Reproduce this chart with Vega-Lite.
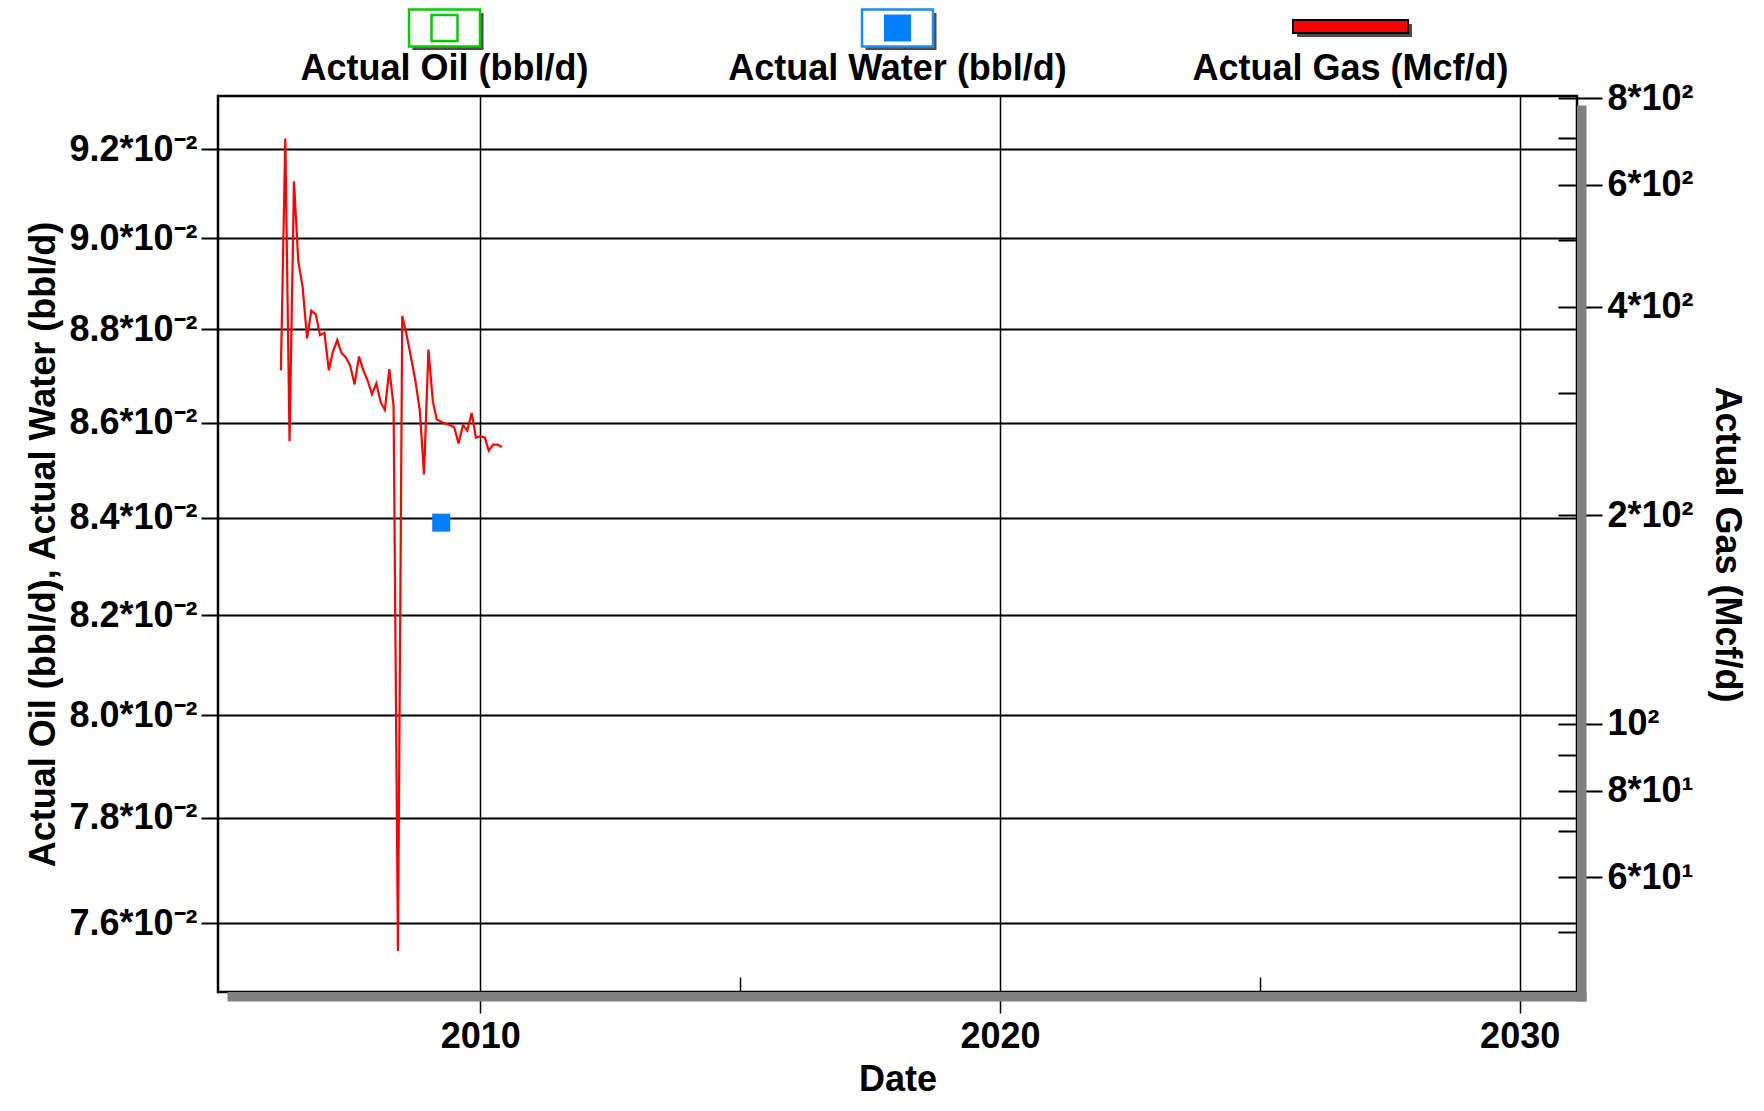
{
  "$schema": "https://vega.github.io/schema/vega-lite/v6.json",
  "background": "white",
  "padding": {"left": 24, "top": 0, "right": 4, "bottom": 4},
  "bounds": "flush",
  "spacing": 16,
  "datasets": {
    "series": [
      {"series": "Actual Oil (bbl/d)"},
      {"series": "Actual Water (bbl/d)"},
      {"series": "Actual Gas (Mcf/d)"}
    ],
    "water": [
      {"date": "2009-04-01", "water": 0.0839}
    ],
    "gas": [
      {"date": "2006-03-01", "gas": 324},
      {"date": "2006-04-01", "gas": 700},
      {"date": "2006-05-01", "gas": 256},
      {"date": "2006-06-01", "gas": 607},
      {"date": "2006-07-01", "gas": 466},
      {"date": "2006-08-01", "gas": 427},
      {"date": "2006-09-01", "gas": 360},
      {"date": "2006-10-01", "gas": 395},
      {"date": "2006-11-01", "gas": 390},
      {"date": "2006-12-01", "gas": 364},
      {"date": "2007-01-01", "gas": 367},
      {"date": "2007-02-01", "gas": 324},
      {"date": "2007-03-01", "gas": 344},
      {"date": "2007-04-01", "gas": 358},
      {"date": "2007-05-01", "gas": 343},
      {"date": "2007-06-01", "gas": 338},
      {"date": "2007-07-01", "gas": 329},
      {"date": "2007-08-01", "gas": 309},
      {"date": "2007-09-01", "gas": 339},
      {"date": "2007-10-01", "gas": 324},
      {"date": "2007-11-01", "gas": 313},
      {"date": "2007-12-01", "gas": 299},
      {"date": "2008-01-01", "gas": 310},
      {"date": "2008-02-01", "gas": 291},
      {"date": "2008-03-01", "gas": 284},
      {"date": "2008-04-01", "gas": 325},
      {"date": "2008-05-01", "gas": 288},
      {"date": "2008-06-01", "gas": 47},
      {"date": "2008-07-01", "gas": 388},
      {"date": "2008-08-01", "gas": 364},
      {"date": "2008-09-01", "gas": 338},
      {"date": "2008-10-01", "gas": 313},
      {"date": "2008-11-01", "gas": 284},
      {"date": "2008-12-01", "gas": 229},
      {"date": "2009-01-01", "gas": 347},
      {"date": "2009-02-01", "gas": 292},
      {"date": "2009-03-01", "gas": 275},
      {"date": "2009-04-01", "gas": 273},
      {"date": "2009-05-01", "gas": 271},
      {"date": "2009-06-01", "gas": 270},
      {"date": "2009-07-01", "gas": 268},
      {"date": "2009-08-01", "gas": 254},
      {"date": "2009-09-01", "gas": 270},
      {"date": "2009-10-01", "gas": 265},
      {"date": "2009-11-01", "gas": 281},
      {"date": "2009-12-01", "gas": 259},
      {"date": "2010-01-01", "gas": 260},
      {"date": "2010-02-01", "gas": 259},
      {"date": "2010-03-01", "gas": 248},
      {"date": "2010-04-01", "gas": 253},
      {"date": "2010-05-01", "gas": 253},
      {"date": "2010-06-01", "gas": 251}
    ]
  },
  "vconcat": [
    {
      "width": 1359,
      "height": 80,
      "view": {"stroke": null, "fill": "white"},
      "data": {"name": "series"},
      "encoding": {
        "x": {
          "field": "series",
          "type": "nominal",
          "sort": null,
          "scale": {"type": "point", "padding": 0.5},
          "axis": null
        }
      },
      "layer": [
        {
          "transform": [{"filter": {"field": "series", "oneOf": ["Actual Oil (bbl/d)", "Actual Water (bbl/d)"]}}],
          "mark": {"type": "point", "shape": "M-1,-0.52H1V0.52H-1Z", "size": 5041, "filled": true, "fill": "black", "strokeWidth": 0, "xOffset": 3.5, "yOffset": -8.5}
        },
        {
          "transform": [{"filter": {"field": "series", "oneOf": ["Actual Oil (bbl/d)", "Actual Water (bbl/d)"]}}],
          "mark": {"type": "point", "shape": "M-1,-0.52H1V0.52H-1Z", "size": 5041, "fill": "white", "fillOpacity": 1, "strokeWidth": 2.5, "strokeOpacity": 1, "yOffset": -12},
          "encoding": {
            "stroke": {
              "field": "series",
              "type": "nominal",
              "scale": {"domain": ["Actual Oil (bbl/d)", "Actual Water (bbl/d)"], "range": ["#00cc00", "#1a8cff"]},
              "legend": null
            }
          }
        },
        {
          "transform": [{"filter": {"field": "series", "equal": "Actual Oil (bbl/d)"}}],
          "mark": {"type": "point", "shape": "square", "size": 676, "fill": "white", "fillOpacity": 1, "stroke": "#00cc00", "strokeWidth": 2.5, "strokeOpacity": 1, "yOffset": -12}
        },
        {
          "transform": [{"filter": {"field": "series", "equal": "Actual Water (bbl/d)"}}],
          "mark": {"type": "point", "shape": "square", "size": 729, "filled": true, "fill": "#0080ff", "fillOpacity": 1, "strokeWidth": 0, "yOffset": -12}
        },
        {
          "transform": [{"filter": {"field": "series", "equal": "Actual Gas (Mcf/d)"}}],
          "mark": {"type": "point", "shape": "M-1,-0.113H1V0.113H-1Z", "size": 13225, "filled": true, "fill": "black", "strokeWidth": 0, "xOffset": 4, "yOffset": -9.5}
        },
        {
          "transform": [{"filter": {"field": "series", "equal": "Actual Gas (Mcf/d)"}}],
          "mark": {"type": "point", "shape": "M-1,-0.113H1V0.113H-1Z", "size": 13225, "filled": true, "fill": "#ff0000", "fillOpacity": 1, "stroke": "black", "strokeWidth": 2, "strokeOpacity": 1, "yOffset": -13.5}
        },
        {
          "mark": {"type": "text", "font": "Liberation Sans", "fontSize": 36, "fontWeight": "bold", "color": "black", "baseline": "middle", "yOffset": 29},
          "encoding": {"text": {"field": "series"}}
        }
      ]
    },
    {
      "width": 1359,
      "height": 896,
      "layer": [
        {
          "data": {"name": "water"},
          "layer": [
            {
              "mark": {"type": "point", "shape": "square", "size": 324, "filled": true, "color": "#0080ff", "opacity": 1},
              "encoding": {
                "x": {
                  "field": "date",
                  "type": "temporal",
                  "scale": {
                    "type": "utc",
                    "nice": false,
                    "domain": [
                      {"year": 2004, "month": 12, "date": 14, "utc": true},
                      {"year": 2031, "month": 2, "date": 8, "utc": true}
                    ]
                  },
                  "axis": {
                    "orient": "bottom",
                    "values": [
                      {"year": 2010, "month": 1, "date": 1, "utc": true},
                      {"year": 2020, "month": 1, "date": 1, "utc": true},
                      {"year": 2030, "month": 1, "date": 1, "utc": true}
                    ],
                    "format": "%Y",
                    "formatType": "utc",
                    "tickSize": 21,
                    "tickWidth": 1.5,
                    "grid": true,
                    "gridWidth": 1.5,
                    "labelPadding": 6,
                    "title": "Date",
                    "titlePadding": 8
                  }
                },
                "y": {
                  "field": "water",
                  "type": "quantitative",
                  "scale": {"type": "log", "nice": false, "domain": [0.07472, 0.09322]},
                  "axis": {
                    "orient": "left",
                    "values": [0.076, 0.078, 0.08, 0.082, 0.084, 0.086, 0.088, 0.09, 0.092],
                    "labelExpr": "format(datum.value * 100, '.1f') + '*10\u207b\u00b2'",
                    "tickSize": 17,
                    "tickWidth": 2,
                    "grid": true,
                    "gridWidth": 2,
                    "labelPadding": 4,
                    "title": "Actual Oil (bbl/d), Actual Water (bbl/d)",
                    "titlePadding": 6
                  }
                }
              }
            },
            {
              "mark": {"type": "rect", "color": "#808080", "x2Offset": 9.5, "yOffset": 9.5, "y2Offset": 9.5},
              "encoding": {
                "x": {
                  "datum": {"year": 2031, "month": 2, "date": 8, "utc": true},
                  "type": "temporal",
                  "axis": {
                    "orient": "bottom",
                    "values": [
                      {"year": 2010, "month": 1, "date": 1, "utc": true},
                      {"year": 2020, "month": 1, "date": 1, "utc": true},
                      {"year": 2030, "month": 1, "date": 1, "utc": true}
                    ],
                    "format": "%Y",
                    "formatType": "utc",
                    "tickSize": 21,
                    "tickWidth": 1.5,
                    "grid": true,
                    "gridWidth": 1.5,
                    "labelPadding": 6,
                    "title": "Date",
                    "titlePadding": 8
                  }
                },
                "x2": {"datum": {"year": 2031, "month": 2, "date": 8, "utc": true}},
                "y": {
                  "datum": 0.09322,
                  "type": "quantitative",
                  "axis": {
                    "orient": "left",
                    "values": [0.076, 0.078, 0.08, 0.082, 0.084, 0.086, 0.088, 0.09, 0.092],
                    "labelExpr": "format(datum.value * 100, '.1f') + '*10\u207b\u00b2'",
                    "tickSize": 17,
                    "tickWidth": 2,
                    "grid": true,
                    "gridWidth": 2,
                    "labelPadding": 4,
                    "title": "Actual Oil (bbl/d), Actual Water (bbl/d)",
                    "titlePadding": 6
                  }
                },
                "y2": {"datum": 0.07472}
              }
            },
            {
              "mark": {"type": "rect", "color": "#808080", "xOffset": 9.5, "x2Offset": 9.5, "y2Offset": 9.5},
              "encoding": {
                "x": {
                  "datum": {"year": 2004, "month": 12, "date": 14, "utc": true},
                  "type": "temporal",
                  "axis": {
                    "orient": "bottom",
                    "values": [
                      {"year": 2010, "month": 1, "date": 1, "utc": true},
                      {"year": 2020, "month": 1, "date": 1, "utc": true},
                      {"year": 2030, "month": 1, "date": 1, "utc": true}
                    ],
                    "format": "%Y",
                    "formatType": "utc",
                    "tickSize": 21,
                    "tickWidth": 1.5,
                    "grid": true,
                    "gridWidth": 1.5,
                    "labelPadding": 6,
                    "title": "Date",
                    "titlePadding": 8
                  }
                },
                "x2": {"datum": {"year": 2031, "month": 2, "date": 8, "utc": true}},
                "y": {
                  "datum": 0.07472,
                  "type": "quantitative",
                  "axis": {
                    "orient": "left",
                    "values": [0.076, 0.078, 0.08, 0.082, 0.084, 0.086, 0.088, 0.09, 0.092],
                    "labelExpr": "format(datum.value * 100, '.1f') + '*10\u207b\u00b2'",
                    "tickSize": 17,
                    "tickWidth": 2,
                    "grid": true,
                    "gridWidth": 2,
                    "labelPadding": 4,
                    "title": "Actual Oil (bbl/d), Actual Water (bbl/d)",
                    "titlePadding": 6
                  }
                },
                "y2": {"datum": 0.07472}
              }
            }
          ]
        },
        {
          "data": {"name": "gas"},
          "layer": [
            {
              "mark": {"type": "line", "color": "#ff0000", "strokeWidth": 2.2},
              "encoding": {
                "x": {
                  "field": "date",
                  "type": "temporal",
                  "scale": {
                    "type": "utc",
                    "nice": false,
                    "domain": [
                      {"year": 2004, "month": 12, "date": 14, "utc": true},
                      {"year": 2031, "month": 2, "date": 8, "utc": true}
                    ]
                  },
                  "axis": {
                    "orient": "bottom",
                    "values": [
                      {"year": 2015, "month": 1, "date": 1, "utc": true},
                      {"year": 2025, "month": 1, "date": 1, "utc": true}
                    ],
                    "labels": false,
                    "tickSize": -15,
                    "tickWidth": 1.5,
                    "grid": false,
                    "title": null
                  }
                },
                "y": {
                  "field": "gas",
                  "type": "quantitative",
                  "scale": {"type": "log", "nice": false, "domain": [41, 806]},
                  "axis": {
                    "orient": "right",
                    "values": [60, 80, 100, 200, 400, 600, 800],
                    "labelExpr": "datum.value == 100 ? '10\u00b2' : datum.value > 100 ? format(datum.value / 100, 'd') + '*10\u00b2' : format(datum.value / 10, 'd') + '*10\u00b9'",
                    "tickSize": 25,
                    "tickWidth": 2,
                    "grid": false,
                    "labelPadding": 5,
                    "title": "Actual Gas (Mcf/d)",
                    "titlePadding": 14
                  }
                }
              }
            },
            {
              "mark": {"type": "line", "strokeOpacity": 0},
              "encoding": {
                "x": {
                  "field": "date",
                  "type": "temporal",
                  "axis": {
                    "orient": "bottom",
                    "values": [
                      {"year": 2015, "month": 1, "date": 1, "utc": true},
                      {"year": 2025, "month": 1, "date": 1, "utc": true}
                    ],
                    "labels": false,
                    "tickSize": -15,
                    "tickWidth": 1.5,
                    "grid": false,
                    "title": null
                  }
                },
                "y": {
                  "field": "gas",
                  "type": "quantitative",
                  "axis": {
                    "orient": "right",
                    "values": [50, 60, 70, 80, 90, 100, 200, 300, 400, 500, 600, 700, 800],
                    "labels": false,
                    "tickSize": -19,
                    "tickWidth": 2,
                    "grid": false,
                    "title": null
                  }
                }
              }
            }
          ],
          "resolve": {"axis": {"y": "independent"}}
        }
      ],
      "resolve": {"scale": {"y": "independent"}, "axis": {"x": "independent"}}
    }
  ],
  "config": {
    "font": "Liberation Sans",
    "view": {"stroke": "black", "strokeWidth": 2.5},
    "axis": {
      "labelFont": "Liberation Sans",
      "labelFontSize": 36,
      "labelFontWeight": "bold",
      "labelColor": "black",
      "titleFont": "Liberation Sans",
      "titleFontSize": 36,
      "titleFontWeight": "bold",
      "titleColor": "black",
      "tickColor": "black",
      "gridColor": "black",
      "gridOpacity": 1,
      "domain": false,
      "labelFlush": false,
      "labelOverlap": false
    }
  }
}
